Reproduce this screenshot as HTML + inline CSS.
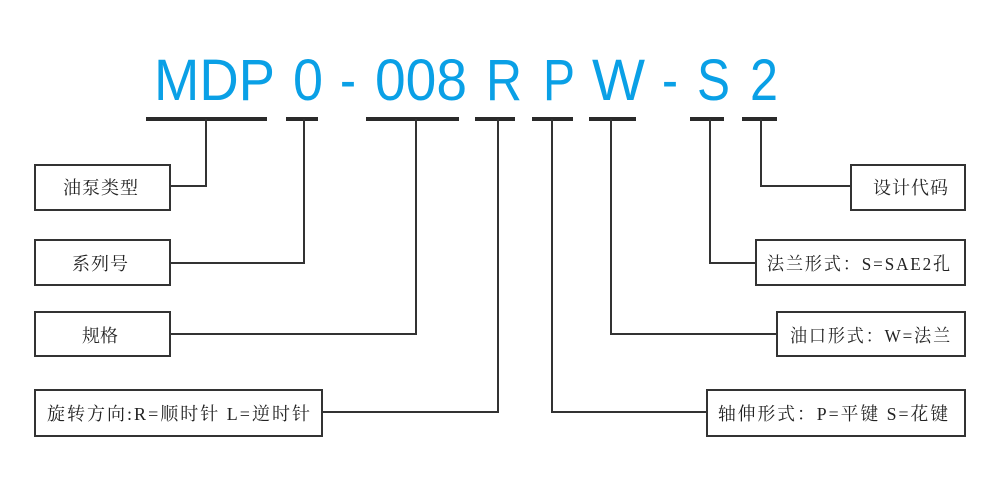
<!DOCTYPE html>
<html><head><meta charset="utf-8"><style>
html,body{margin:0;padding:0;background:#fff;}
svg{display:block}
.t{font-family:"Liberation Sans",sans-serif;font-size:58px;fill:#0aa0e6;}
.b{font-family:"Liberation Serif","Noto Serif CJK SC",serif;font-size:18px;fill:#222;letter-spacing:2px;}
</style></head><body>
<svg width="1000" height="500" viewBox="0 0 1000 500" xmlns="http://www.w3.org/2000/svg">
<g class="t">
<text x="154" y="100" textLength="121" lengthAdjust="spacingAndGlyphs">MDP</text>
<text x="293" y="100" textLength="30" lengthAdjust="spacingAndGlyphs">0</text>
<text x="340" y="100" textLength="16" lengthAdjust="spacingAndGlyphs">-</text>
<text x="375" y="100" textLength="92" lengthAdjust="spacingAndGlyphs">008</text>
<text x="486" y="100" textLength="36" lengthAdjust="spacingAndGlyphs">R</text>
<text x="543" y="100" textLength="32" lengthAdjust="spacingAndGlyphs">P</text>
<text x="592" y="100" textLength="53" lengthAdjust="spacingAndGlyphs">W</text>
<text x="662" y="100" textLength="16" lengthAdjust="spacingAndGlyphs">-</text>
<text x="697" y="100" textLength="33" lengthAdjust="spacingAndGlyphs">S</text>
<text x="750" y="100" textLength="28" lengthAdjust="spacingAndGlyphs">2</text>
</g>
<g fill="#2a2a2a">
<rect x="146" y="117" width="121" height="4"/>
<rect x="286" y="117" width="32" height="4"/>
<rect x="366" y="117" width="93" height="4"/>
<rect x="475" y="117" width="40" height="4"/>
<rect x="532" y="117" width="41" height="4"/>
<rect x="589" y="117" width="47" height="4"/>
<rect x="690" y="117" width="34" height="4"/>
<rect x="742" y="117" width="35" height="4"/>
</g>
<g fill="none" stroke="#333" stroke-width="2">
<polyline points="206,119 206,186 170,186"/>
<polyline points="304,119 304,263 170,263"/>
<polyline points="416,119 416,334 170,334"/>
<polyline points="498,119 498,412 322,412"/>
<polyline points="552,119 552,412 707,412"/>
<polyline points="611,119 611,334 777,334"/>
<polyline points="710,119 710,263 756,263"/>
<polyline points="761,119 761,186 851,186"/>
<rect x="35" y="165" width="135" height="45"/>
<rect x="35" y="240" width="135" height="45"/>
<rect x="35" y="312" width="135" height="44"/>
<rect x="35" y="390" width="287" height="46"/>
<rect x="851" y="165" width="114" height="45"/>
<rect x="756" y="240" width="209" height="45"/>
<rect x="777" y="312" width="188" height="44"/>
<rect x="707" y="390" width="258" height="46"/>
</g>
<g class="b">
<text x="63" y="194" textLength="77">油泵类型</text>
<text x="72" y="270" textLength="58">系列号</text>
<text x="82" y="342" textLength="38">规格</text>
<text x="47" y="420" textLength="265" lengthAdjust="spacingAndGlyphs">旋转方向:R=顺时针 L=逆时针</text>
<text x="873" y="194" textLength="77">设计代码</text>
<text x="767" y="270" textLength="185" lengthAdjust="spacingAndGlyphs">法兰形式：S=SAE2孔</text>
<text x="790" y="342" textLength="162" lengthAdjust="spacingAndGlyphs">油口形式：W=法兰</text>
<text x="718" y="420" textLength="232" lengthAdjust="spacingAndGlyphs">轴伸形式：P=平键 S=花键</text>
</g>
</svg>
</body></html>
